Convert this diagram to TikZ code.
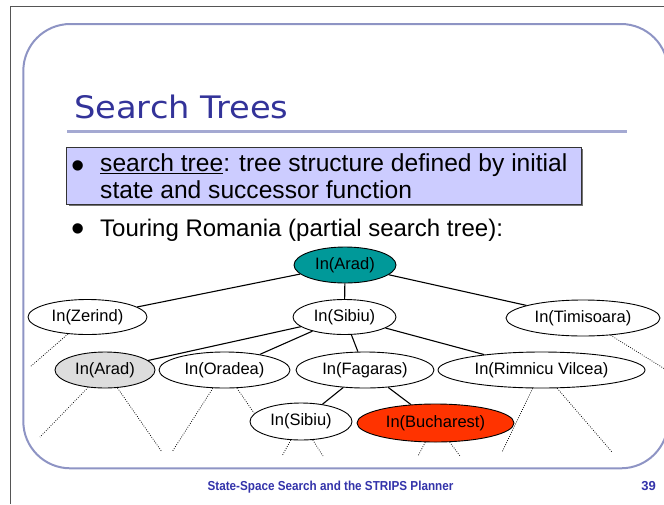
\documentclass[tikz,border=0pt]{standalone}
\usepackage{fontspec}
\setmainfont{Liberation Sans}
\newfontfamily\titlefont{DejaVu Sans}
\usetikzlibrary{shapes.geometric}

\definecolor{slideblue}{HTML}{333399}
\definecolor{footblue}{HTML}{3333AA}
\definecolor{framegray}{HTML}{555555}
\definecolor{panelline}{HTML}{8E94C4}
\definecolor{ruleline}{HTML}{A4A9D2}
\definecolor{boxfill}{HTML}{CCCCFF}
\definecolor{rootfill}{HTML}{009999}
\definecolor{visitfill}{HTML}{DDDDDD}
\definecolor{goalfill}{HTML}{FF3300}

\begin{document}
\begin{tikzpicture}[x=1pt,y=-1pt,
  state/.style={ellipse, draw=black, line width=0.9pt, fill=white, inner sep=0pt,
                text height=8pt, text depth=0pt,
                minimum height=35pt, font=\fontsize{16.5}{18}\selectfont},
  tedge/.style={line width=1.1pt},
  openedge/.style={line width=0.75pt, black, dash pattern=on 0.8pt off 1.5pt},
  body/.style={inner sep=0pt, anchor=base west, font=\fontsize{24.6}{26}\selectfont},
  bulletmark/.style={inner sep=0pt, anchor=base, font=\fontsize{38}{40}\selectfont},
]
\useasboundingbox (0,0) rectangle (664,504);
\clip (0,0) rectangle (664,504);

% slide edge and rounded panel
\draw[framegray, line width=1pt] (10.7,504) -- (10.7,6.3) -- (664,6.3);
\draw[panelline, line width=2pt, rounded corners=47pt] (23.3,24) rectangle (668,468.3);

% title
\node[inner sep=0pt, anchor=base west, text=slideblue, yscale=0.92,
      font=\titlefont\fontsize{33.7}{36}\selectfont] (title) at (74,118.3) {Search Trees};
\draw[ruleline, line width=3pt] (67,131.7) -- (627.3,131.7);

% highlighted first bullet
\fill[black!55] (68.7,149.3) rectangle (583.3,205.6);
\draw[fill=boxfill, draw=black!80, line width=0.8pt] (66.7,147.3) rectangle (581.7,204);
\node[bulletmark] (dot1) at (77.7,178.5) {•};
\node[body] (line1) at (100,171.7) {\underline{search tree}: tree structure defined by initial};
\node[body] (line2) at (100,198) {state and successor function};
\node[bulletmark] (dot2) at (77.7,241.5) {•};
\node[body, font=\fontsize{24}{26}\selectfont] (line3) at (100,236.7) {Touring Romania (partial search tree):};

% search tree nodes
\node[state, fill=rootfill, minimum width=102pt, minimum height=36pt] (root) at (345,265) {In(Arad)};
\node[state, minimum width=119pt] (zer) at (87.5,317) {In(Zerind)};
\node[state, minimum width=103pt] (sib) at (344.5,317) {In(Sibiu)};
\node[state, minimum width=154pt, minimum height=36pt] (tim) at (583,318) {In(Timisoara)};
\node[state, fill=visitfill, minimum width=100pt, minimum height=36pt] (ara) at (105,370) {In(Arad)};
\node[state, minimum width=131pt, minimum height=36pt] (ora) at (224.5,370) {In(Oradea)};
\node[state, minimum width=138pt, minimum height=36pt] (fag) at (365,370) {In(Fagaras)};
\node[state, minimum width=207pt, minimum height=36pt] (rim) at (541.5,370) {In(Rimnicu Vilcea)};
\node[state, minimum width=102pt, minimum height=37pt] (sib2) at (301,421.5) {In(Sibiu)};
\node[state, fill=goalfill, minimum width=157pt, minimum height=38pt] (buc) at (435.5,423) {In(Bucharest)};

% expanded edges
\draw[tedge] (root) -- (zer);
\draw[tedge] (root) -- (sib);
\draw[tedge] (root) -- (tim);
\draw[tedge] (sib) -- (ara);
\draw[tedge] (sib) -- (ora);
\draw[tedge] (sib) -- (fag);
\draw[tedge] (sib) -- (rim);
\draw[tedge] (fag) -- (sib2);
\draw[tedge] (fag) -- (buc);

% unexpanded branches
\coordinate (zerA) at (30,367);
\coordinate (timA) at (668,371);
\coordinate (araA) at (40,437);
\coordinate (araB) at (162,452);
\coordinate (oraA) at (172,452);
\coordinate (oraB) at (254,413);
\coordinate (sibA) at (282,456);
\coordinate (sibB) at (323,456);
\coordinate (bucA) at (418,456);
\coordinate (bucB) at (460,456);
\coordinate (rimA) at (502,452);
\coordinate (rimB) at (612,452);
\draw[openedge] (zer) -- (zerA);
\draw[openedge] (tim) -- (timA);
\draw[openedge] (ara) -- (araA);
\draw[openedge] (ara) -- (araB);
\draw[openedge] (ora) -- (oraA);
\draw[openedge] (ora) -- (oraB);
\draw[openedge] (sib2) -- (sibA);
\draw[openedge] (sib2) -- (sibB);
\draw[openedge] (buc) -- (bucA);
\draw[openedge] (buc) -- (bucB);
\draw[openedge] (rim) -- (rimA);
\draw[openedge] (rim) -- (rimB);

% footer
\node[inner sep=0pt, anchor=base, xscale=0.9, text=footblue,
      font=\bfseries\fontsize{13}{15}\selectfont] (foot) at (330.5,490)
      {State-Space Search and the STRIPS Planner};
\node[inner sep=0pt, anchor=base east, text=footblue,
      font=\bfseries\fontsize{13}{15}\selectfont] (page) at (656,490) {39};
\end{tikzpicture}
\end{document}
